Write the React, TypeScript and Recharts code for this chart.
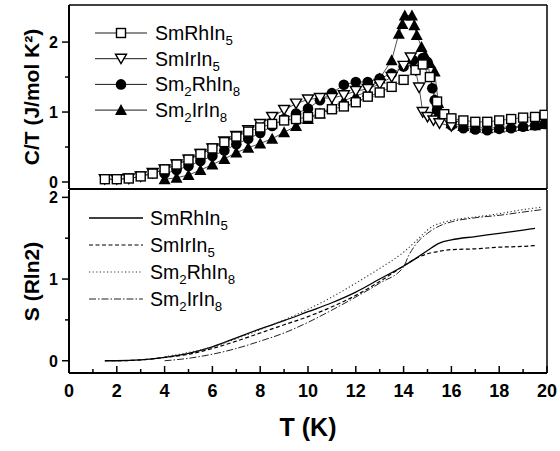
import { ComposedChart, Line, XAxis, YAxis, ReferenceLine, Legend } from 'recharts';

// C/T (J/mol K^2) vs T (K)
const rhT = [1.5, 2, 2.5, 3, 3.5, 4, 4.5, 5, 5.5, 6, 6.5, 7, 7.5, 8, 8.5, 9, 9.5, 10, 10.5, 11, 11.5, 12, 12.5, 13, 13.5, 14, 14.5, 14.8, 15.1, 15.4, 15.7, 16, 16.5, 17, 17.5, 18, 18.5, 19, 19.5, 19.9];
const rhCT = [0.04, 0.04, 0.05, 0.08, 0.12, 0.18, 0.25, 0.32, 0.4, 0.48, 0.57, 0.65, 0.72, 0.78, 0.83, 0.88, 0.9, 0.93, 0.98, 1.04, 1.08, 1.14, 1.22, 1.28, 1.36, 1.46, 1.6, 1.68, 1.5, 1.15, 0.97, 0.91, 0.88, 0.86, 0.86, 0.88, 0.9, 0.92, 0.93, 0.96];

const irT = [1.5, 2, 2.5, 3, 3.5, 4, 4.5, 5, 5.5, 6, 6.5, 7, 7.5, 8, 8.5, 9, 9.5, 10, 10.5, 11, 11.5, 12, 12.5, 13, 13.5, 14, 14.3, 14.5, 14.65, 14.8, 15, 15.25, 15.5, 16];
const irCT = [0.04, 0.04, 0.05, 0.08, 0.13, 0.18, 0.25, 0.32, 0.4, 0.48, 0.58, 0.66, 0.74, 0.83, 0.93, 1.03, 1.12, 1.18, 1.2, 1.2, 1.24, 1.3, 1.33, 1.4, 1.5, 1.66, 1.78, 1.6, 1.35, 1.0, 0.93, 0.88, 0.84, 0.8];

const rh2T = [4, 4.5, 5, 5.5, 6, 6.5, 7, 7.5, 8, 8.5, 9, 9.5, 10, 10.5, 11, 11.5, 12, 12.5, 13, 13.5, 14, 14.4, 14.8, 15, 15.2, 15.3, 15.4, 15.5, 16, 16.5, 17, 17.5, 18, 18.5, 19, 19.5, 19.9];
const rh2CT = [0.12, 0.17, 0.23, 0.3, 0.37, 0.45, 0.54, 0.62, 0.7, 0.8, 0.9, 0.98, 1.05, 1.17, 1.27, 1.39, 1.43, 1.43, 1.48, 1.55, 1.65, 1.74, 1.77, 1.71, 1.34, 1.17, 1.03, 0.95, 0.81, 0.77, 0.75, 0.74, 0.76, 0.77, 0.79, 0.81, 0.83];

const ir2T = [4, 4.5, 5, 5.5, 6, 6.5, 7, 7.5, 8, 8.5, 9, 9.5, 10, 10.5, 11, 11.5, 12, 12.5, 13, 13.5, 13.8, 13.95, 14.05, 14.35, 14.45, 14.55, 14.75, 14.9, 15.1, 15.3, 15.45, 15.55, 16, 16.5, 17, 17.5, 18, 18.5, 19, 19.5, 19.9];
const ir2CT = [0.04, 0.06, 0.1, 0.17, 0.25, 0.33, 0.42, 0.49, 0.55, 0.62, 0.71, 0.8, 0.9, 0.98, 1.07, 1.16, 1.23, 1.29, 1.48, 1.74, 2.12, 2.26, 2.38, 2.38, 2.24, 2.1, 1.93, 1.81, 1.7, 1.58, 1.13, 0.98, 0.84, 0.8, 0.78, 0.77, 0.78, 0.79, 0.8, 0.81, 0.83];

// S (R ln2) vs T (K), lower panel
const s1T = [1.5, 2, 3, 4, 5, 6, 7, 8, 9, 10, 11, 12, 13, 14, 14.5, 15, 15.5, 16, 17, 18, 19, 19.5];
const sRh = [0, 0, 0.01, 0.04, 0.09, 0.17, 0.28, 0.39, 0.49, 0.6, 0.71, 0.84, 1.0, 1.16, 1.25, 1.35, 1.44, 1.48, 1.52, 1.56, 1.6, 1.62];
const sIr = [0, 0, 0.01, 0.04, 0.08, 0.15, 0.24, 0.34, 0.44, 0.54, 0.66, 0.8, 0.97, 1.16, 1.25, 1.31, 1.34, 1.36, 1.37, 1.39, 1.4, 1.41];
const s2T = [4, 5, 6, 7, 8, 9, 10, 11, 12, 13, 14, 14.2, 14.5, 15, 15.3, 15.5, 16, 17, 18, 19, 19.8];
const sRh2 = [0.05, 0.1, 0.17, 0.27, 0.38, 0.5, 0.63, 0.78, 0.95, 1.13, 1.33, 1.38, 1.46, 1.6, 1.66, 1.68, 1.72, 1.76, 1.8, 1.85, 1.88];
const sIr2 = [0, 0.03, 0.08, 0.15, 0.24, 0.34, 0.47, 0.62, 0.78, 0.95, 1.15, 1.28, 1.42, 1.56, 1.62, 1.65, 1.7, 1.75, 1.78, 1.82, 1.85];

const names = ['SmRhIn5', 'SmIrIn5', 'Sm2RhIn8', 'Sm2IrIn8'];
const xTicks = [0, 1, 2, 3, 4, 5, 6, 7, 8, 9, 10, 11, 12, 13, 14, 15, 16, 17, 18, 19, 20];
const halfTicks = [0, 0.5, 1, 1.5, 2];

const FONT = '"Liberation Sans", Arial, Helvetica, sans-serif';
const pts = (xs: number[], ys: number[]) => xs.map((T, i) => ({ T, v: ys[i] }));

type M = { cx: number; cy: number };
const Square = ({ cx, cy }: M) => (
  <rect x={cx - 4.5} y={cy - 4.5} width={9} height={9} fill="#fff" stroke="#000" strokeWidth={1.4} />
);
const TriDown = ({ cx, cy }: M) => (
  <polygon points={`${cx - 5.5},${cy - 4.5} ${cx + 5.5},${cy - 4.5} ${cx},${cy + 5}`} fill="#fff" stroke="#000" strokeWidth={1.4} />
);
const Dot = ({ cx, cy }: M) => <circle cx={cx} cy={cy} r={5.3} fill="#000" />;
const TriUp = ({ cx, cy }: M) => (
  <polygon points={`${cx - 6},${cy + 5} ${cx + 6},${cy + 5} ${cx},${cy - 6}`} fill="#000" />
);

const ctSeries = [
  { name: names[3], data: pts(ir2T, ir2CT), Marker: TriUp },
  { name: names[2], data: pts(rh2T, rh2CT), Marker: Dot },
  { name: names[1], data: pts(irT, irCT), Marker: TriDown },
  { name: names[0], data: pts(rhT, rhCT), Marker: Square },
];
const ctLegendOrder = [3, 2, 1, 0].map((i) => ctSeries[i]);

const sSeries = [
  { name: names[0], data: pts(s1T, sRh), stroke: '#000', width: 1.3, dash: undefined },
  { name: names[1], data: pts(s1T, sIr), stroke: '#000', width: 1.2, dash: '4 2.5' },
  { name: names[2], data: pts(s2T, sRh2), stroke: '#333', width: 1.1, dash: '1.2 2.4' },
  { name: names[3], data: pts(s2T, sIr2), stroke: '#222', width: 1, dash: '7 2 1.5 2' },
];

function Formula({ x, y, text, size }: { x: number; y: number; text: string; size: number }) {
  const parts = text.split(/(\d)/).filter(Boolean);
  let down = false;
  return (
    <text x={x} y={y} fontSize={size} fontFamily={FONT} fill="#000">
      {parts.map((p, i) => {
        const sub = /\d/.test(p);
        const dy = sub === down ? 0 : sub ? 5 : -5;
        down = sub;
        return (
          <tspan key={i} dy={dy} fontSize={sub ? size * 0.68 : size}>{p}</tspan>
        );
      })}
    </text>
  );
}

const YTick = (props: any) => {
  const { x, y, payload } = props;
  const major = Number.isInteger(payload.value);
  return (
    <g>
      <line x1={x - (major ? 7 : 4)} x2={x} y1={y} y2={y} stroke="#000" strokeWidth={1.5} />
      {major && (
        <text x={x - 11} y={y} dy="0.36em" textAnchor="end" fontSize={16} fontWeight="bold" fontFamily={FONT} fill="#000">
          {payload.value}
        </text>
      )}
    </g>
  );
};

const XTick = (props: any) => {
  const { x, y, payload } = props;
  const major = payload.value % 2 === 0;
  return (
    <g>
      <line x1={x} x2={x} y1={y} y2={y - (major ? 7 : 4)} stroke="#000" strokeWidth={1.5} />
      {major && (
        <text x={x} y={y + 24} textAnchor="middle" fontSize={18} fontWeight="bold" fontFamily={FONT} fill="#000">
          {payload.value}
        </text>
      )}
    </g>
  );
};

const CtLegend = () => (
  <svg width={190} height={112}>
    {ctLegendOrder.map((s, i) => {
      const y = 15 + i * 25.7;
      const Marker = s.Marker;
      return (
        <g key={s.name}>
          <line x1={5} x2={57} y1={y} y2={y} stroke="#000" strokeWidth={0.9} />
          <Marker cx={31} cy={y} />
          <Formula x={65} y={y + 7} text={s.name} size={19.5} />
        </g>
      );
    })}
  </svg>
);

const SLegend = () => (
  <svg width={190} height={112}>
    {sSeries.map((s, i) => {
      const y = 14 + i * 27;
      return (
        <g key={s.name}>
          <line x1={5} x2={59} y1={y} y2={y} stroke={s.stroke} strokeWidth={s.width} strokeDasharray={s.dash} />
          <Formula x={66} y={y + 7} text={s.name} size={19.5} />
        </g>
      );
    })}
  </svg>
);

const axisLine = { stroke: '#000', strokeWidth: 2 };
const yLabel = (value: string) => ({
  value,
  angle: -90,
  position: 'insideLeft' as const,
  offset: 32,
  style: { textAnchor: 'middle', fontSize: 21, fontWeight: 'bold', fontFamily: FONT, fill: '#000' },
});

export default function App() {
  return (
    <div style={{ position: 'absolute', left: 0, top: 0, width: 560, height: 451, background: '#fff' }}>
      <div style={{ position: 'absolute', left: 0, top: 0 }}>
        <ComposedChart width={560} height={190} margin={{ top: 5, right: 13, bottom: 0, left: 0 }} style={{ overflow: 'visible' }}>
          <XAxis dataKey="T" type="number" domain={[0, 20]} ticks={[]} tick={false} tickLine={false} height={1} axisLine={axisLine} allowDataOverflow />
          <YAxis
            type="number"
            domain={[-0.1, 2.53]}
            ticks={halfTicks}
            interval={0}
            tick={<YTick />}
            tickLine={false}
            tickSize={0}
            tickMargin={0}
            width={69}
            axisLine={axisLine}
            allowDataOverflow
            label={yLabel('C/T (J/mol K²)')}
          />
          <ReferenceLine x={20} stroke="#000" strokeWidth={1.5} />
          <ReferenceLine y={2.53} stroke="#000" strokeWidth={1.5} />
          {ctSeries.map((s) => {
            const Marker = s.Marker;
            return (
              <Line
                key={s.name}
                data={s.data}
                dataKey="v"
                name={s.name}
                type="linear"
                stroke="#222"
                strokeWidth={0.8}
                dot={(p: any) => <Marker key={`${s.name}-${p.index}`} cx={p.cx} cy={p.cy} />}
                activeDot={false}
                isAnimationActive={false}
              />
            );
          })}
          <Legend layout="vertical" align="center" verticalAlign="middle" content={<CtLegend />} wrapperStyle={{ left: 90, top: 18, width: 190, height: 112 }} />
        </ComposedChart>
      </div>
      <div style={{ position: 'absolute', left: 0, top: 190 }}>
        <ComposedChart width={560} height={261} margin={{ top: 0, right: 13, bottom: 0, left: 0 }} style={{ overflow: 'visible' }}>
          <XAxis
            dataKey="T"
            type="number"
            domain={[0, 20]}
            ticks={xTicks}
            interval={0}
            tick={<XTick />}
            tickLine={false}
            tickSize={0}
            tickMargin={0}
            height={78}
            axisLine={axisLine}
            allowDataOverflow
            label={{ value: 'T (K)', position: 'insideBottom', offset: 15, style: { fontSize: 25, fontWeight: 'bold', fontFamily: FONT, fill: '#000' } }}
          />
          <YAxis
            type="number"
            domain={[-0.15, 2.09]}
            ticks={halfTicks}
            interval={0}
            tick={<YTick />}
            tickLine={false}
            tickSize={0}
            tickMargin={0}
            width={69}
            axisLine={axisLine}
            allowDataOverflow
            label={yLabel('S (Rln2)')}
          />
          <ReferenceLine x={20} stroke="#000" strokeWidth={1.5} />
          {sSeries.map((s) => (
            <Line
              key={s.name}
              data={s.data}
              dataKey="v"
              name={s.name}
              type="monotone"
              stroke={s.stroke}
              strokeWidth={s.width}
              strokeDasharray={s.dash}
              dot={false}
              activeDot={false}
              isAnimationActive={false}
            />
          ))}
          <Legend layout="vertical" align="center" verticalAlign="middle" content={<SLegend />} wrapperStyle={{ left: 84, top: 14, width: 190, height: 112 }} />
        </ComposedChart>
      </div>
    </div>
  );
}
